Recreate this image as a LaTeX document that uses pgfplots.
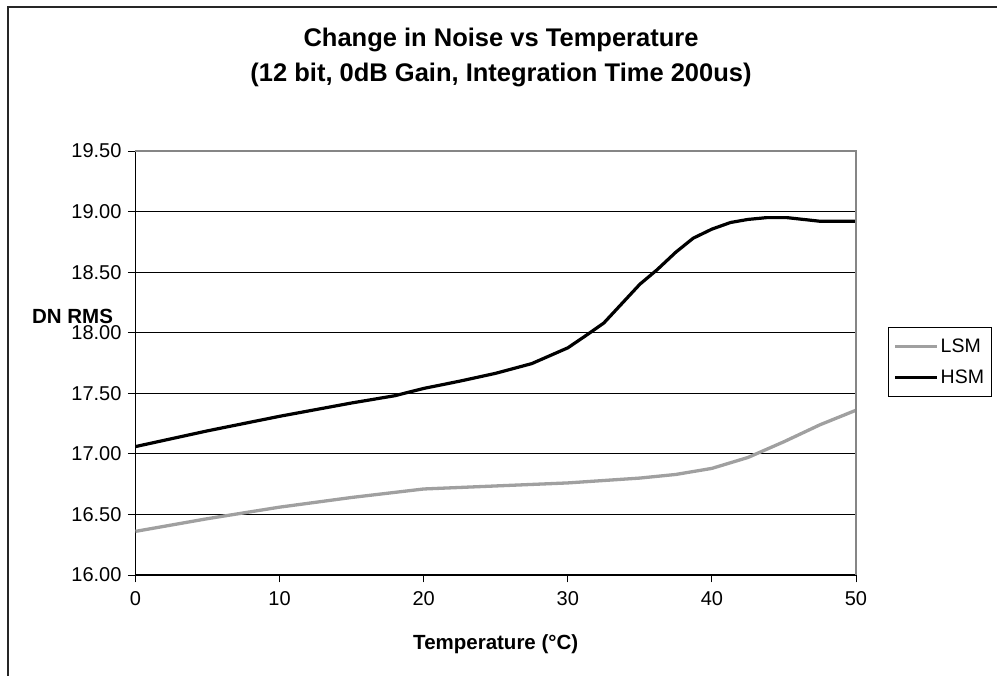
\documentclass[border=0pt]{standalone}
\usepackage{fontspec}
\setmainfont{Liberation Sans}
\usepackage{pgfplots}
\pgfplotsset{compat=1.18}
\definecolor{lsmgray}{HTML}{A0A0A0}
\definecolor{bordergray}{HTML}{868686}
\begin{document}
\begin{tikzpicture}[x=1pt,y=1pt]
\useasboundingbox (0,0) rectangle (997,676);
\draw[line width=1.3pt, black!85] (8,-5) -- (8,669) -- (1002,669);
\begin{axis}[
  at={(135.5pt,101pt)}, anchor=south west,
  scale only axis, width=720.5pt, height=424pt,
  xmin=0, xmax=50, ymin=16, ymax=19.5,
  clip=false,
  xtick={0,10,20,30,40,50},
  ytick={16,16.5,17,17.5,18,18.5,19,19.5},
  /pgf/number format/assume math mode=true,
  yticklabel style={/pgf/number format/fixed, /pgf/number format/fixed zerofill, /pgf/number format/precision=2, xshift=-3pt},
  xticklabel style={yshift=-6pt},
  tick label style={font=\fontsize{20}{24}\selectfont},
  axis lines*=left,
  axis line style={black, line width=1.2pt},
  tick align=outside,
  major tick length=7.5pt,
  tick style={black, line width=0.9pt},
  ymajorgrids,
  major grid style={black, line width=0.8pt},
  title={Change in Noise vs Temperature\\(12 bit, 0dB Gain, Integration Time 200us)},
  title style={at={(axis description cs:0.5073,1.2054)}, anchor=center, align=center, font=\fontsize{25.5}{35}\selectfont\bfseries},
  xlabel={Temperature (°C)},
  xlabel style={at={(axis description cs:0.5,-0.1627)}, anchor=center, font=\fontsize{20.5}{24}\selectfont\bfseries},
  ylabel={DN RMS},
  ylabel style={at={(axis description cs:-0.0874,0.6108)}, rotate=-90, anchor=center, font=\fontsize{20.5}{24}\selectfont\bfseries},
  legend style={at={(1.0444,0.5024)}, anchor=west, draw=black, line width=0.9pt, font=\fontsize{19.5}{22}\selectfont, inner xsep=5pt, inner ysep=9pt, row sep=12pt},
  legend cell align=left,
  legend image code/.code={\draw[#1] (0pt,0pt) -- (42pt,0pt);},
]
\addplot[lsmgray, line width=3.3pt, line join=round] coordinates {
(0,16.36) (5,16.465) (10,16.56) (15,16.64) (20,16.71) (25,16.735) (30,16.76)
(32.5,16.78) (35,16.80) (37.5,16.83) (40,16.88) (42.5,16.97) (45,17.10) (47.5,17.24) (50,17.36)
};
\addlegendentry{LSM}
\addplot[black, line width=3.2pt, line join=round] coordinates {
(0,17.06) (5,17.19) (10,17.31) (15,17.42) (18,17.48) (20,17.54) (22.5,17.60) (25,17.665)
(27.5,17.745) (30,17.875) (31.3,17.98) (32.5,18.08) (35,18.40) (36.2,18.52) (37.5,18.665)
(38.7,18.78) (40,18.855) (41.3,18.91) (42.5,18.935) (43.8,18.95) (45.2,18.95) (47.5,18.92) (50,18.92)
};
\addlegendentry{HSM}
\draw[bordergray, line width=1.6pt] (rel axis cs:0,1) -- (rel axis cs:1,1) -- (rel axis cs:1,0);
\end{axis}
\end{tikzpicture}
\end{document}
